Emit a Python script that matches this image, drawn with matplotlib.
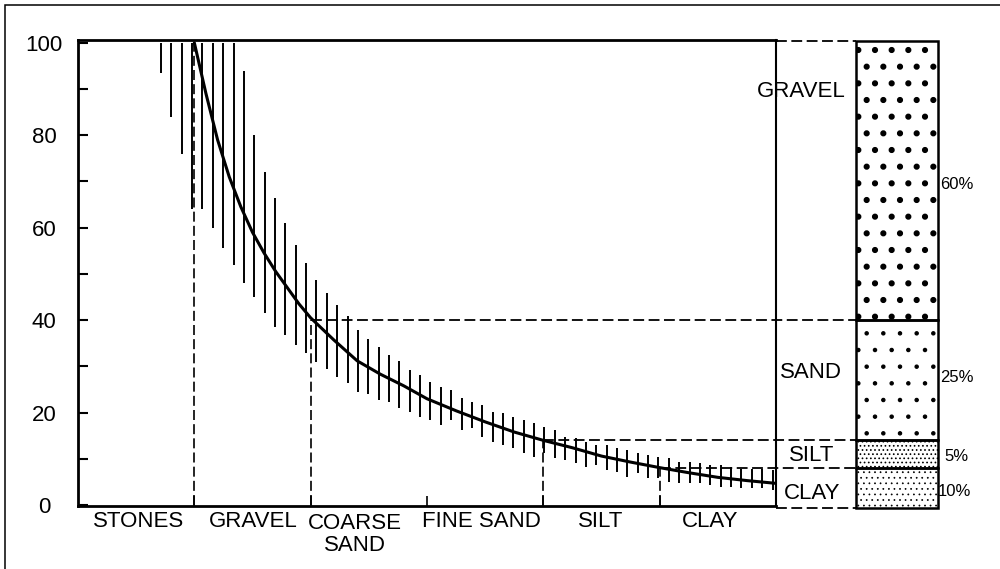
import numpy as np
import matplotlib
matplotlib.use("Agg")
import matplotlib.pyplot as plt
from matplotlib.patches import Rectangle

plt.rcParams['font.family'] = ['Liberation Sans', 'DejaVu Sans']

## data ------------------------------------------------------------------
# particle classes along the x axis (one unit per class)
CLASSES = ['STONES', 'GRAVEL', 'COARSE\nSAND', 'FINE SAND', 'SILT', 'CLAY']
CLASS_LABEL_X = [0.52, 1.51, 2.38, 3.47, 4.49, 5.43]

# cumulative curve (% finer)
CURVE_X = [1.0, 1.1, 1.2, 1.3, 1.4, 1.5, 1.6, 1.7, 1.8, 1.9, 2.0, 2.2, 2.4,
           2.6, 2.8, 3.0, 3.25, 3.5, 3.75, 4.0, 4.25, 4.5, 4.75, 5.0, 5.25,
           5.5, 5.75, 6.0]
CURVE_Y = [100, 89, 79, 71, 64.5, 59, 54.5, 50.5, 47, 43.5, 40.5, 35.7, 31.2,
           28.3, 25.8, 23, 20.4, 18, 15.8, 14, 12.4, 10.6, 9.3, 8.1, 7.0,
           6.0, 5.3, 4.7]

# spread of the samples: top and bottom of each vertical range bar
BAR_HI = [100, 100, 100, 100, 100, 100, 100, 100, 94, 80,
          72, 66.4, 61, 56.3, 52.3, 48.7, 45.9, 43.3, 40.8, 37.9,
          36, 34.3, 32.5, 31.2, 29.2, 28.1, 26.7, 25.6, 24.9, 23.2,
          22.4, 21.6, 20.2, 19.9, 19.1, 18.4, 17.7, 16.9, 16.2, 14.8,
          14.5, 13.7, 13, 13, 12.3, 11.9, 11.2, 10.8, 10.5, 10.1,
          9.4, 9.4, 9, 8.7, 8.7, 8.3, 7.9, 7.9, 7.9, 7.6]
BAR_LO = [93.5, 84, 76, 64, 64, 60, 55.6, 52, 48, 45,
          41.5, 38.6, 36.8, 34.6, 32.9, 31, 29.5, 27.8, 26.4, 24.5,
          24, 22.7, 22.2, 21, 20.1, 19.1, 18.4, 17.3, 18.4, 16.2,
          16.7, 14.8, 13.7, 13, 12.3, 11.2, 10.5, 11.2, 10.1, 9.7,
          9.1, 8.3, 8.7, 7.6, 7.2, 6.1, 6.9, 5.8, 5.8, 5.0,
          4.7, 4.7, 4.7, 4.3, 4.0, 4.0, 3.6, 3.6, 3.6, 3.2]
BAR_X = np.linspace(0.713, 5.97, len(BAR_HI))

# curve values where the class boundaries meet it
BOUND_X = [1, 2, 4, 5]
BOUND_Y = [100, 40, 14, 8]

# composition column (bottom to top)
COMP_NAMES = ['CLAY', 'SILT', 'SAND', 'GRAVEL']
COMP_BOTTOM = [-0.6, 8, 14, 40]
COMP_TOP = [8, 14, 40, 100.4]
COMP_PCT = ['10%', '5%', '25%', '60%']
COMP_HATCH = ['...', '....', '.', '.']
COMP_HATCH_LW = [0.5, 0.7, 0.8, 2.0]
COMP_NAME_POS = [(6.31, 2.6), (6.31, 10.8), (6.30, 28.6), (6.22, 89.4)]
COMP_PCT_POS = [(7.39, 3.0), (7.45, 10.6), (7.41, 27.5), (7.41, 69.3)]

COL_X0, COL_X1 = 6.688, 7.393
DASH = (0, (6, 2.5))

## figure ----------------------------------------------------------------
fig = plt.figure(figsize=(10, 5.69), dpi=100)
ax = fig.add_axes([0.078, 0.1107, 0.698, 0.819])
ax.set_xlim(0, 6)
ax.set_ylim(-0.2, 100.6)

# outer frame (only top and left edges fall inside the picture)
fig.add_artist(Rectangle((0.005, -0.05), 1.2, 0.9912 + 0.05, transform=fig.transFigure,
                         fill=False, lw=1.1, ec='k'))

# range bars and the curve
ax.vlines(BAR_X, BAR_LO, BAR_HI, colors='k', lw=1.4, clip_on=False)
ax.plot(CURVE_X, CURVE_Y, color='k', lw=2.2, solid_capstyle='round')

# dashed class boundaries and guide lines to the column
for bx, by in zip(BOUND_X, BOUND_Y):
    ax.plot([bx, bx], [0, by], color='k', lw=1.2, ls=DASH)
    if by < 100:
        ax.plot([bx, COL_X0], [by, by], color='k', lw=1.3, ls=DASH, clip_on=False)
ax.plot([6, COL_X0], [100.4, 100.4], color='k', lw=1.3, ls=DASH, clip_on=False)
ax.plot([6, COL_X0], [-0.6, -0.6], color='k', lw=1.3, ls=DASH, clip_on=False)

# composition column
for b, t, h, hlw in zip(COMP_BOTTOM, COMP_TOP, COMP_HATCH, COMP_HATCH_LW):
    with plt.rc_context({'hatch.linewidth': hlw}):
        p = Rectangle((COL_X0, b), COL_X1 - COL_X0, t - b, fill=False,
                      hatch=h, ec='k', lw=1.8, clip_on=False)
    try:
        p.set_hatch_linewidth(hlw)
    except AttributeError:
        pass
    ax.add_patch(p)
for name, (tx, ty) in zip(COMP_NAMES, COMP_NAME_POS):
    ax.text(tx, ty, name, ha='center', va='center', fontsize=16)
for pct, (tx, ty) in zip(COMP_PCT, COMP_PCT_POS):
    ax.text(tx, ty, pct, ha='left', va='center', fontsize=12)

# class names under the axis
for name, lx in zip(CLASSES, CLASS_LABEL_X):
    if '\n' in name:
        ax.text(lx, -6.4, name, ha='center', va='center', fontsize=16, linespacing=1.05)
    else:
        ax.text(lx, -3.5, name, ha='center', va='center', fontsize=16)

# axes styling
for side in ['left', 'top', 'bottom']:
    ax.spines[side].set_linewidth(2.0)
ax.spines['right'].set_linewidth(1.5)
ax.set_yticks([0, 20, 40, 60, 80, 100])
ax.set_yticks([10, 30, 50, 70, 90], minor=True)
ax.tick_params(axis='y', which='both', direction='in', length=7, width=1.5,
               pad=24.5, labelsize=16)
for lab in ax.get_yticklabels():
    lab.set_horizontalalignment('center')
ax.set_xticks([1, 2, 3, 4, 5])
ax.tick_params(axis='x', direction='in', length=7, width=1.2, labelbottom=False)

fig.savefig('out.png', dpi=100)
